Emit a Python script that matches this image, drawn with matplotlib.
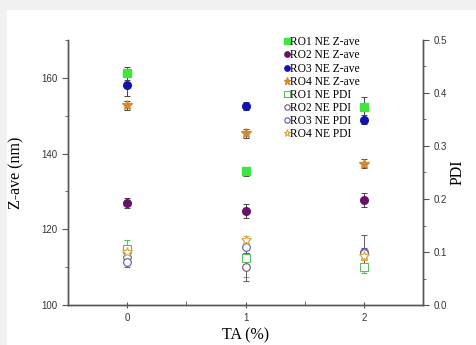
import numpy as np
import matplotlib
matplotlib.use("Agg")
import matplotlib.pyplot as plt
from matplotlib.patches import Rectangle

ta = [0, 1, 2]

# Z-average (nm), left axis
zave = {
    "RO1": [161.2, 135.3, 152.2],
    "RO2": [126.9, 124.8, 127.7],
    "RO3": [158.0, 152.6, 149.0],
    "RO4": [152.8, 145.4, 137.3],
}
zave_err = {
    "RO1": [1.8, 1.2, 2.8],
    "RO2": [1.3, 1.8, 1.8],
    "RO3": [2.8, 1.0, 1.3],
    "RO4": [1.2, 1.2, 1.2],
}

# PDI, right axis
pdi = {
    "RO1": [0.106, 0.088, 0.072],
    "RO2": [0.090, 0.072, 0.100],
    "RO3": [0.082, 0.110, 0.098],
    "RO4": [0.100, 0.123, 0.092],
}
pdi_err = {
    "RO1": [0.016, 0.035, 0.012],
    "RO2": [0.012, 0.026, 0.033],
    "RO3": [0.010, 0.012, 0.010],
    "RO4": [0.008, 0.008, 0.008],
}

names = ["RO1", "RO2", "RO3", "RO4"]
z_colors = {"RO1": "#3ee63e", "RO2": "#6a0f6a", "RO3": "#1212b4", "RO4": "#d08a35"}
p_colors = {"RO1": "#5cbb5c", "RO2": "#6e5a6e", "RO3": "#5a5aa8", "RO4": "#d9a545"}
markers = {"RO1": "s", "RO2": "o", "RO3": "o", "RO4": "*"}

serif = ["Liberation Serif", "DejaVu Serif"]
sans = ["Liberation Sans", "DejaVu Sans"]

fig = plt.figure(figsize=(4.76, 3.45), dpi=100, facecolor="#f1f1f1")
fig.add_artist(Rectangle((7 / 476, 0), 1, 1 - 10 / 345, transform=fig.transFigure,
                         facecolor="white", edgecolor="none", zorder=-10))
ax = fig.add_axes([68 / 476, 1 - 305 / 345, (423 - 68) / 476, (305 - 40) / 345])
ax.set_facecolor("none")
ax2 = ax.twinx()

handles, labels = [], []
for n in names:
    ms = 7.5 if markers[n] == "*" else 5.5
    h = ax.errorbar(ta, zave[n], yerr=zave_err[n], fmt=markers[n], color=z_colors[n],
                    ms=ms, ecolor="#444444", elinewidth=0.7, capsize=2, capthick=0.7)
    handles.append(h[0])
    labels.append(n + " NE Z-ave")
for n in names:
    ms = 7.5 if markers[n] == "*" else 5.5
    h = ax2.errorbar(ta, pdi[n], yerr=pdi_err[n], fmt=markers[n], mfc="white",
                     mec=p_colors[n], mew=0.8, ms=ms, ecolor=p_colors[n], elinewidth=0.7,
                     capsize=2, capthick=0.7)
    handles.append(h[0])
    labels.append(n + " NE PDI")

ax.set_xlim(-0.5, 2.5)
ax.set_ylim(100, 170)
ax2.set_ylim(0, 0.5)
ax.set_xticks([0, 1, 2])
ax.set_xticks([0.5, 1.5], minor=True)
ax.set_yticks([100, 120, 140, 160])
ax.set_yticks([110, 130, 150, 170], minor=True)
ax2.set_yticks([0, 0.1, 0.2, 0.3, 0.4, 0.5])
ax2.set_yticks(np.arange(0.05, 0.5, 0.1), minor=True)
ax2.set_yticklabels(["0.0", "0.1", "0.2", "0.3", "0.4", "0.5"])

for a in (ax, ax2):
    a.spines["top"].set_visible(False)
    for s in a.spines.values():
        s.set_color("#555555")
        s.set_linewidth(1.0)
ax.tick_params(axis="both", which="both", labelsize=7, colors="#555555", labelcolor="#333333")
ax.tick_params(axis="x", which="major", direction="inout", length=5)
ax.tick_params(axis="x", which="minor", direction="in", length=3)
ax.tick_params(axis="y", which="major", direction="out", length=4)
ax.tick_params(axis="y", which="minor", direction="out", length=2.5)
ax2.tick_params(axis="y", which="both", labelsize=7, colors="#555555", labelcolor="#333333")
ax2.tick_params(axis="y", which="major", direction="out", length=4)
ax2.tick_params(axis="y", which="minor", direction="out", length=2.5)
for lab in ax.get_xticklabels() + ax.get_yticklabels() + ax2.get_yticklabels():
    lab.set_family(sans)

ax.set_xlabel("TA (%)", family=serif, fontsize=11.5, labelpad=3)
ax.set_ylabel("Z-ave (nm)", family=serif, fontsize=11.5, labelpad=12)
ax2.set_ylabel("PDI", family=serif, fontsize=11.5, labelpad=2)

ax.legend(handles, labels, loc="upper left", bbox_to_anchor=(0.59, 1.04), frameon=False,
          prop={"family": serif, "size": 8.3}, handlelength=0.4, handletextpad=0.1,
          labelspacing=0.1, borderpad=0.1, markerscale=0.7)

fig.savefig("out.png", dpi=100, facecolor=fig.get_facecolor())
